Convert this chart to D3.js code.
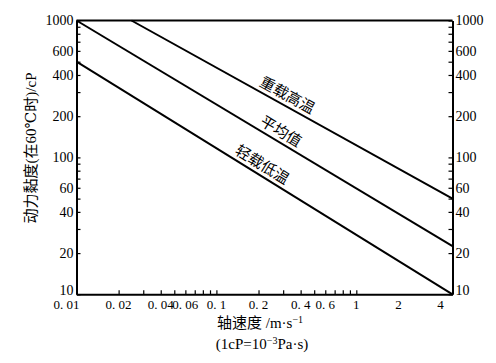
<!DOCTYPE html>
<html>
<head>
<meta charset="utf-8">
<script src="https://cdn.jsdelivr.net/npm/d3@7"></script>
<style>
    body { margin: 0; background: #fff; }
    svg text { font-family: "Liberation Serif", "DejaVu Serif", "Noto Sans CJK SC", serif; fill: #000; }
    .cjk { font-family: "Noto Sans CJK SC", sans-serif; }
</style>
</head>
<body>
<div id="chart"></div>
<script>
// series: each line is given by its two end points (speed m/s, viscosity cP)
var seriesNames = ["重载高温", "平均值", "轻载低温"];
var heavySpeed = [0.0247, 4.87],
    heavyVisc = [1000, 50];
var avgSpeed = [0.01, 4.87],
    avgVisc = [1000, 22.5];
var lightSpeed = [0.01, 4.87],
    lightVisc = [500, 10];

var xTickValues = [0.01, 0.02, 0.03, 0.04, 0.05, 0.06, 0.07, 0.08, 0.09, 0.1,
                   0.2, 0.3, 0.4, 0.5, 0.6, 0.7, 0.8, 0.9, 1];
var xLabelValues = [0.01, 0.02, 0.04, 0.06, 0.1, 0.2, 0.4, 0.6, 1, 2, 4];
var xLabelText = ["0. 01", "0. 02", "0. 04", "0. 06", "0. 1", "0. 2", "0. 4", "0. 6", "1", "2", "4"];

var yTickValues = [10, 20, 30, 40, 50, 60, 70, 80, 90, 100,
                   200, 300, 400, 500, 600, 700, 800, 900, 1000];
var yLabelValues = [10, 20, 40, 60, 100, 200, 400, 600, 1000];

(function() {
    var width = 496,
        height = 363,
        plotLeft = 76.5,
        plotRight = 452.5,
        plotTop = 20.5,
        plotBottom = 294.3,
        tickLen = 4,
        fontSize = 14;

    var svg = d3.select("#chart").append("svg")
        .attr("width", width)
        .attr("height", height);

    var x = d3.scaleLog().domain([0.01, 4.87]).range([plotLeft, plotRight]);
    var y = d3.scaleLog().domain([10, 1000]).range([plotBottom, plotTop]);

    function yFormat(d) {
        return yLabelValues.indexOf(d) >= 0 ? String(d) : "";
    }

    // left axis, ticks inside
    var leftAxis = svg.append("g")
        .attr("transform", "translate(" + plotLeft + ",0)")
        .call(d3.axisLeft(y).tickValues(yTickValues).tickFormat(yFormat)
            .tickSizeInner(-tickLen).tickSizeOuter(0).tickPadding(3));

    // right axis, ticks inside
    var rightAxis = svg.append("g")
        .attr("transform", "translate(" + plotRight + ",0)")
        .call(d3.axisRight(y).tickValues(yTickValues).tickFormat(yFormat)
            .tickSizeInner(-tickLen).tickSizeOuter(0).tickPadding(3));

    // bottom axis, ticks inside, labels drawn separately
    var bottomAxis = svg.append("g")
        .attr("transform", "translate(0," + plotBottom + ")")
        .call(d3.axisBottom(x).tickValues(xTickValues).tickFormat("")
            .tickSizeInner(-tickLen).tickSizeOuter(0));

    [leftAxis, rightAxis, bottomAxis].forEach(function(g) {
        g.attr("font-family", null).attr("font-size", null);
        g.select(".domain").attr("stroke-width", 2).attr("stroke", "#000");
        g.selectAll(".tick line").attr("stroke", "#000").attr("stroke-width", 1.2);
        g.selectAll(".tick text").style("font-size", fontSize + "px");
    });

    // lowest label sits a bit higher so it clears the x labels
    [leftAxis, rightAxis].forEach(function(g) {
        g.selectAll(".tick text")
            .filter(function(d) { return d === 10; })
            .attr("y", -4.5);
    });

    // top border
    svg.append("line")
        .attr("x1", plotLeft).attr("x2", plotRight)
        .attr("y1", plotTop).attr("y2", plotTop)
        .attr("stroke", "#000")
        .attr("stroke-width", 2);

    // x tick labels
    svg.selectAll(".xLabel")
        .data(xLabelValues)
        .enter()
        .append("text")
        .attr("class", "xLabel")
        .attr("x", function(d, i) { return x(d) + (i === 0 ? -10 : 0); })
        .attr("y", plotBottom + 15)
        .attr("text-anchor", "middle")
        .style("font-size", "13px")
        .text(function(d, i) { return xLabelText[i]; });

    // the three lines
    var lines = [
        {name : seriesNames[0], pts : d3.zip(heavySpeed, heavyVisc), at : 0.47},
        {name : seriesNames[1], pts : d3.zip(avgSpeed, avgVisc), at : 0.53},
        {name : seriesNames[2], pts : d3.zip(lightSpeed, lightVisc), at : 0.48}
    ];

    var lineGen = d3.line()
        .x(function(d) { return x(d[0]); })
        .y(function(d) { return y(d[1]); });

    svg.selectAll(".series")
        .data(lines)
        .enter()
        .append("path")
        .attr("class", "series")
        .attr("d", function(d) { return lineGen(d.pts); })
        .attr("fill", "none")
        .attr("stroke", "#000")
        .attr("stroke-width", 2);

    svg.selectAll(".seriesLabel")
        .data(lines)
        .enter()
        .append("text")
        .attr("class", "seriesLabel cjk")
        .attr("text-anchor", "middle")
        .attr("dy", -5)
        .style("font-size", "15px")
        .attr("transform", function(d) {
            var x0 = x(d.pts[0][0]), y0 = y(d.pts[0][1]),
                x1 = x(d.pts[1][0]), y1 = y(d.pts[1][1]);
            var ang = Math.atan2(y1 - y0, x1 - x0) * 180 / Math.PI;
            var px = x0 + (x1 - x0) * d.at,
                py = y0 + (y1 - y0) * d.at;
            return "translate(" + px + "," + py + ") rotate(" + ang + ")";
        })
        .text(function(d) { return d.name; });

    // y axis title
    svg.append("text")
        .attr("transform", "translate(36,148) rotate(-90)")
        .attr("text-anchor", "middle")
        .style("font-size", "15px")
        .text("动力黏度(在60℃时)/cP");

    // x axis title, two lines
    var xt = svg.append("text")
        .attr("x", 260)
        .attr("y", 328)
        .attr("text-anchor", "middle")
        .style("font-size", "15px");
    xt.append("tspan").text("轴速度 /m·s");
    xt.append("tspan").attr("dy", -5).style("font-size", "10px").text("−1");

    var xt2 = svg.append("text")
        .attr("x", 262)
        .attr("y", 349)
        .attr("text-anchor", "middle")
        .style("font-size", "15px");
    xt2.append("tspan").text("(1cP=10");
    xt2.append("tspan").attr("dy", -5).style("font-size", "10px").text("−3");
    xt2.append("tspan").attr("dy", 5).text("Pa·s)");
})();
</script>
</body>
</html>
